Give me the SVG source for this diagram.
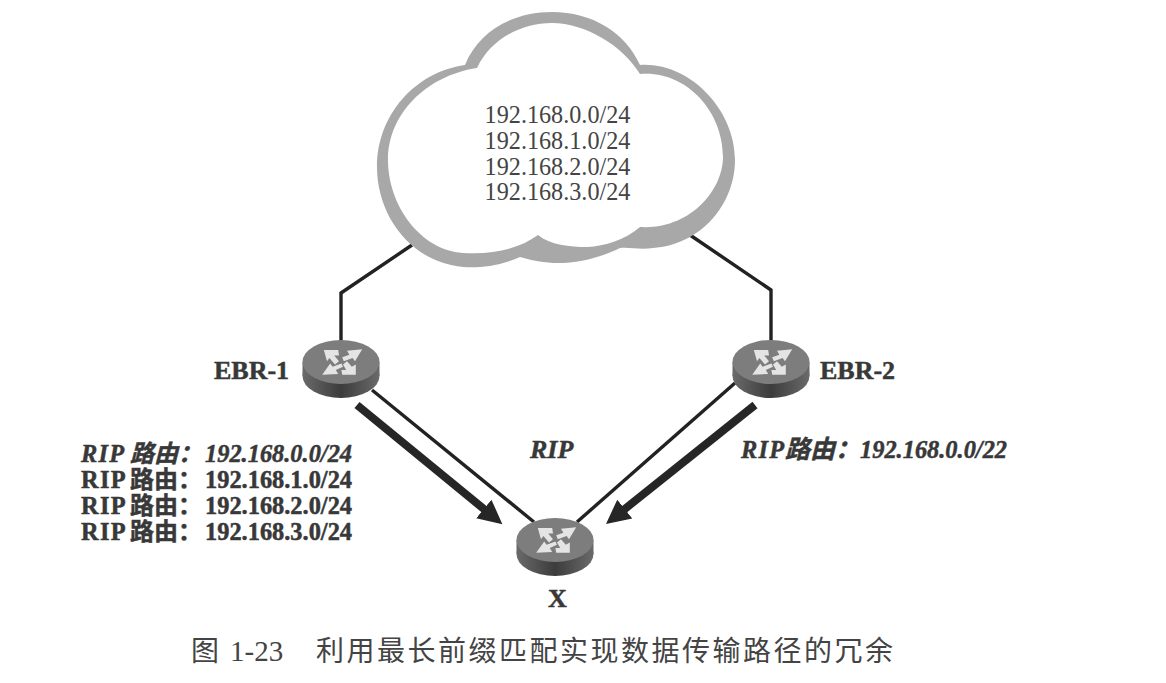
<svg xmlns="http://www.w3.org/2000/svg" width="1166" height="683" viewBox="0 0 1166 683">
<style>
text{font-family:"Liberation Serif","Noto Sans CJK SC",serif;fill:#383838}
.net{font-size:24.200px;fill:#444}
.b{font-size:26px;font-weight:bold;stroke:#383838;stroke-width:.5px}
.r{font-size:24.400px;font-weight:bold;stroke:#383838;stroke-width:.5px}
.sp{letter-spacing:1.300px}
.i{font-style:italic}
.cjk{font-size:24px}
.cjk2{font-size:25px}
.cap{font-size:29px;fill:#444}
.capc{font-size:28px}
.thin{fill:none;stroke:#222;stroke-width:3.400}
.thick{stroke:#262626;stroke-width:8;fill:none}
</style>
<defs>
<marker id="ah" markerUnits="userSpaceOnUse" markerWidth="30" markerHeight="28" refX="8" refY="14" orient="auto"><path d="M0 2L24 14L0 26Z" fill="#262626"/></marker>
<linearGradient id="side" x1="0" y1="0" x2="1" y2="0"><stop offset="0" stop-color="#6a6a6a"/><stop offset=".5" stop-color="#3c3c3c"/><stop offset="1" stop-color="#6a6a6a"/></linearGradient>
<g id="rt">
<ellipse cx="0" cy="14" rx="38.500" ry="22" fill="url(#side)"/>
<rect x="-38.500" y="0" width="77" height="14" fill="url(#side)"/>
<ellipse cx="0" cy="0" rx="38.500" ry="22" fill="#7d7d7d"/>
<g fill="#e4e4e4" transform="translate(2 0) scale(.8)">
<path d="M-24 -15L-6 -15L-5 -8L-11 -8L-5 -1L-10 3L-17 -5L-20 -1Z"/>
<path d="M24 -16L5 -14L8 -9L-1 -6L1 -1L12 -5L15 -1Z"/>
<path d="M-26 16L-6 15L-9 10L0 6L-2 2L-13 6L-16 2Z"/>
<path d="M16 16L-1 16L-2 10L4 10L0 3L5 -1L11 6L16 3Z"/>
</g>
</g>
</defs>
<rect width="1166" height="683" fill="#fff"/>
<g id="connectors">
<path class="thin" d="M412 245L341 293V345"/>
<path class="thin" d="M690 235L771 290V345"/>
<path class="thin" d="M372 390L534 522"/>
<path class="thin" d="M735 383L577 522"/>
<path class="thick" d="M357 405L490 514" marker-end="url(#ah)"/>
<path class="thick" d="M755 405L618.500 514" marker-end="url(#ah)"/>
</g>
<g id="cloud">
<path fill="#a8a8a8" d="M465 65C478 32 512 12 552 12C592 12 625 32 640 65C690 62 735 110 735 160C735 205 700 245 653 248C640 250 630 247 620 248C600 258 575 264 553 263C540 262 530 260 520 257C500 266 480 268 463 267C410 262 377 215 377 167C377 115 415 72 465 65Z"/>
<path fill="#fff" d="M477 68C490 40 520 23 552 23C585 23 622 45 640 74C685 70 723 110 723 157C723 190 690 230 640 227C625 240 605 246 587 247C570 247 550 245 538 235C520 248 495 255 463 253C420 250 388 205 388 160C388 115 425 76 477 68Z"/>
<g text-anchor="middle">
<text class="net" x="557.500" y="123">192.168.0.0/24</text>
<text class="net" x="557.500" y="149">192.168.1.0/24</text>
<text class="net" x="557.500" y="175">192.168.2.0/24</text>
<text class="net" x="557.500" y="200">192.168.3.0/24</text>
</g>
</g>
<g id="ebr1"><use href="#rt" x="341" y="362"/><text class="b" x="214" y="379">EBR-1</text></g>
<g id="ebr2"><use href="#rt" x="771" y="362"/><text class="b" x="820" y="379">EBR-2</text></g>
<g id="x"><use href="#rt" x="555" y="540"/><text class="b" x="548" y="607">X</text></g>
<g id="labels">
<text class="r i" x="81" y="462"><tspan class="sp">RIP</tspan><tspan class="cjk" x="130">路由：</tspan><tspan x="205">192.168.0.0/24</tspan></text>
<text class="r" x="81" y="488"><tspan class="sp">RIP</tspan><tspan class="cjk" x="130">路由：</tspan><tspan x="205">192.168.1.0/24</tspan></text>
<text class="r" x="81" y="514"><tspan class="sp">RIP</tspan><tspan class="cjk" x="130">路由：</tspan><tspan x="205">192.168.2.0/24</tspan></text>
<text class="r" x="81" y="540"><tspan class="sp">RIP</tspan><tspan class="cjk" x="130">路由：</tspan><tspan x="205">192.168.3.0/24</tspan></text>
<text class="b i" x="530" y="458">RIP</text>
<text class="r i" x="741" y="458"><tspan class="sp">RIP</tspan><tspan class="cjk2" x="785">路由：</tspan><tspan x="860">192.168.0.0/22</tspan></text>
<text class="cap" y="661"><tspan class="capc" x="191">图</tspan><tspan x="230">1-23</tspan></text>
<text class="cap capc" x="316" y="661" textLength="577">利用最长前缀匹配实现数据传输路径的冗余</text>
</g>
</svg>
